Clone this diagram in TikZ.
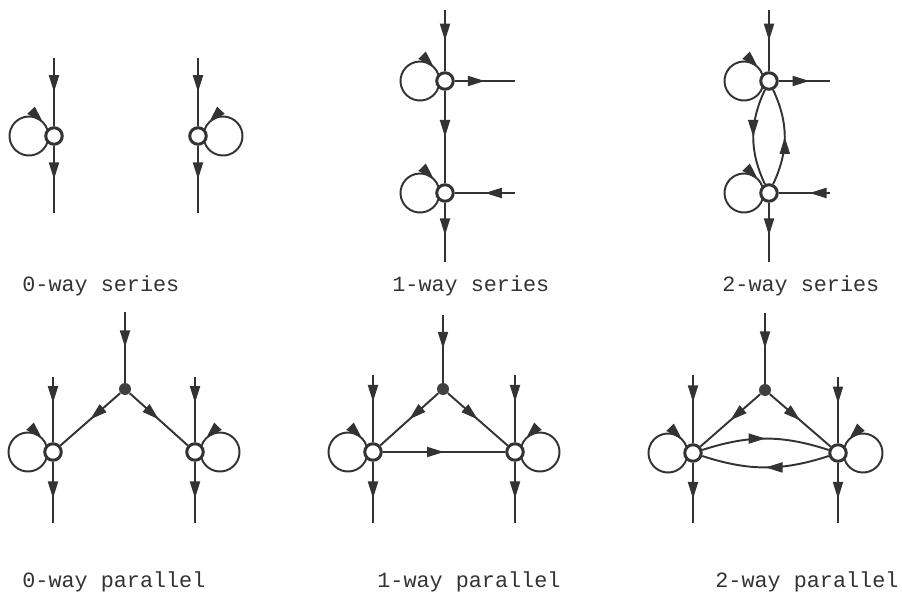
\documentclass[tikz,border=0pt]{standalone}
\usepackage{fontspec}
\newfontfamily\typewriter{Liberation Mono}
\usetikzlibrary{arrows.meta, decorations.markings}

\tikzset{
  vertex/.style={circle, draw=black!80, line width=1.7pt, fill=white, minimum size=3.3mm, inner sep=0pt},
  junction/.style={circle, fill=black!75, minimum size=2.4mm, inner sep=0pt},
  flow/.style={draw=black!80, line width=1.1pt, postaction={decorate},
    decoration={markings, mark=at position #1 with {\arrow{Triangle[length=3.4mm, width=2mm]}}}},
  flow/.default=0.5,
  caption/.style={anchor=base west, inner sep=0pt, text=black!80, font=\typewriter\fontsize{12.4}{14}\selectfont},
}
% self loops: a circle of radius 19.5 whose centre lies 25 to the side of the node
\newcommand{\loopwest}[1]{\draw[flow=0.92] ([shift={(-6.5,-6.2)}]#1.center) arc[start angle=-18.5, end angle=-341.5, radius=3.9mm];}
\newcommand{\loopeast}[1]{\draw[flow=0.92] ([shift={(6.5,-6.2)}]#1.center) arc[start angle=198.5, end angle=521.5, radius=3.9mm];}

\begin{document}
\begin{tikzpicture}[x=0.2mm, y=0.2mm]
    \useasboundingbox (0,0) rectangle (902,601);

    % 0-way series
    \node[vertex] (s0l) at (54,465) {};
    \node[vertex] (s0r) at (198,465) {};
    \coordinate (s0l-in) at (54,543);
    \coordinate (s0l-out) at (54,388);
    \coordinate (s0r-in) at (198,543);
    \coordinate (s0r-out) at (198,388);
    \draw[flow] (s0l-in) -- (s0l);
    \draw[flow] (s0l) -- (s0l-out);
    \loopwest{s0l}
    \draw[flow] (s0r-in) -- (s0r);
    \draw[flow] (s0r) -- (s0r-out);
    \loopeast{s0r}
    \node[caption] (cap-s0) at (22,309) {0-way series};

    % 1-way series
    \node[vertex] (s1t) at (445,520) {};
    \node[vertex] (s1b) at (445,408) {};
    \coordinate (s1-in) at (445,591);
    \coordinate (s1-out) at (445,339);
    \coordinate (s1t-side) at (515,520);
    \coordinate (s1b-side) at (515,408);
    \draw[flow] (s1-in) -- (s1t);
    \draw[flow] (s1t) -- (s1t-side);
    \draw[flow] (s1t) -- (s1b);
    \draw[flow] (s1b-side) -- (s1b);
    \draw[flow=0.55] (s1b) -- (s1-out);
    \loopwest{s1t}
    \loopwest{s1b}
    \node[caption] (cap-s1) at (392,309) {1-way series};

    % 2-way series
    \node[vertex] (s2t) at (769,520) {};
    \node[vertex] (s2b) at (769,408) {};
    \coordinate (s2-in) at (769,591);
    \coordinate (s2-out) at (769,339);
    \coordinate (s2t-side) at (830,520);
    \coordinate (s2b-side) at (830,408);
    \draw[flow] (s2-in) -- (s2t);
    \draw[flow=0.6] (s2t) -- (s2t-side);
    \draw[flow] (s2t) to[bend right=25] (s2b);
    \draw[flow] (s2b) to[bend right=25] (s2t);
    \draw[flow=0.4] (s2b-side) -- (s2b);
    \draw[flow=0.55] (s2b) -- (s2-out);
    \loopwest{s2t}
    \loopwest{s2b}
    \node[caption] (cap-s2) at (722,309) {2-way series};

    % 0-way parallel
    \node[junction] (p0j) at (125,212) {};
    \node[vertex] (p0l) at (53,149) {};
    \node[vertex] (p0r) at (195,149) {};
    \coordinate (p0-in) at (125,289);
    \coordinate (p0l-in) at (53,224);
    \coordinate (p0r-in) at (195,224);
    \coordinate (p0l-out) at (53,78);
    \coordinate (p0r-out) at (195,78);
    \draw[flow] (p0-in) -- (p0j);
    \draw[flow] (p0j) -- (p0l);
    \draw[flow] (p0j) -- (p0r);
    \draw[flow=0.4] (p0l-in) -- (p0l);
    \draw[flow=0.4] (p0r-in) -- (p0r);
    \draw[flow=0.6] (p0l) -- (p0l-out);
    \draw[flow=0.6] (p0r) -- (p0r-out);
    \loopwest{p0l}
    \loopeast{p0r}
    \node[caption] (cap-p0) at (22,14) {0-way parallel};

    % 1-way parallel
    \node[junction] (p1j) at (443,212) {};
    \node[vertex] (p1l) at (373,149) {};
    \node[vertex] (p1r) at (515,149) {};
    \coordinate (p1-in) at (443,286);
    \coordinate (p1l-in) at (373,226);
    \coordinate (p1r-in) at (515,226);
    \coordinate (p1l-out) at (373,78);
    \coordinate (p1r-out) at (515,78);
    \draw[flow] (p1-in) -- (p1j);
    \draw[flow] (p1j) -- (p1l);
    \draw[flow] (p1j) -- (p1r);
    \draw[flow] (p1l) -- (p1r);
    \draw[flow=0.4] (p1l-in) -- (p1l);
    \draw[flow=0.4] (p1r-in) -- (p1r);
    \draw[flow=0.6] (p1l) -- (p1l-out);
    \draw[flow=0.6] (p1r) -- (p1r-out);
    \loopwest{p1l}
    \loopeast{p1r}
    \node[caption] (cap-p1) at (377,14) {1-way parallel};

    % 2-way parallel
    \node[junction] (p2j) at (765,211) {};
    \node[vertex] (p2l) at (693,148) {};
    \node[vertex] (p2r) at (838,148) {};
    \coordinate (p2-in) at (765,288);
    \coordinate (p2l-in) at (693,226);
    \coordinate (p2r-in) at (838,224);
    \coordinate (p2l-out) at (693,78);
    \coordinate (p2r-out) at (838,78);
    \draw[flow] (p2-in) -- (p2j);
    \draw[flow] (p2j) -- (p2l);
    \draw[flow] (p2j) -- (p2r);
    \draw[flow] (p2l) to[bend left=18] (p2r);
    \draw[flow] (p2r) to[bend left=18] (p2l);
    \draw[flow=0.4] (p2l-in) -- (p2l);
    \draw[flow=0.4] (p2r-in) -- (p2r);
    \draw[flow=0.6] (p2l) -- (p2l-out);
    \draw[flow=0.6] (p2r) -- (p2r-out);
    \loopwest{p2l}
    \loopeast{p2r}
    \node[caption] (cap-p2) at (715,14) {2-way parallel};
\end{tikzpicture}
\end{document}
